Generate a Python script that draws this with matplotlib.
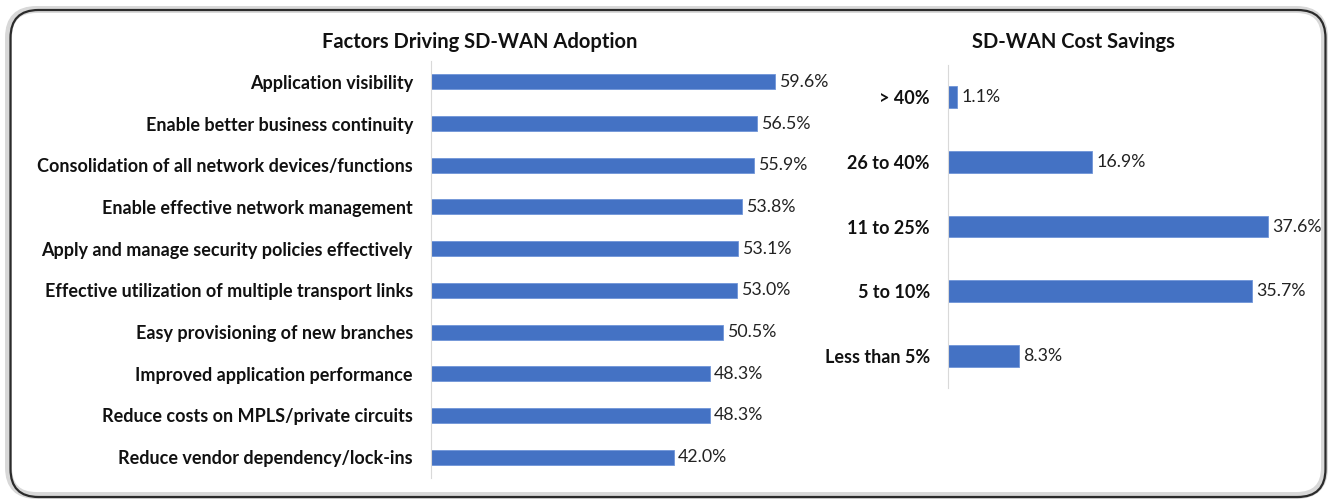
import matplotlib.pyplot as plt
from matplotlib.patches import FancyBboxPatch

factors = ["Application visibility",
           "Enable better business continuity",
           "Consolidation of all network devices/functions",
           "Enable effective network management",
           "Apply and manage security policies effectively",
           "Effective utilization of multiple transport links",
           "Easy provisioning of new branches",
           "Improved application performance",
           "Reduce costs on MPLS/private circuits",
           "Reduce vendor dependency/lock-ins"]
factor_pct = [59.6, 56.5, 55.9, 53.8, 53.1, 53.0, 50.5, 48.3, 48.3, 42.0]

savings = ["> 40%", "26 to 40%", "11 to 25%", "5 to 10%", "Less than 5%"]
savings_pct = [1.1, 16.9, 37.6, 35.7, 8.3]

plt.rcParams['font.family'] = ['Lato', 'DejaVu Sans']
BLUE = "#4472C4"
W, H = 1332, 499

fig = plt.figure(figsize=(W / 100, H / 100), dpi=100)

# rounded frame with a soft shadow
shadow = FancyBboxPatch((0.085, 0.035), 13.16, 4.86,
                        boxstyle="round,pad=0,rounding_size=0.28",
                        transform=fig.dpi_scale_trans, fill=False,
                        edgecolor="#d8d8d8", linewidth=5, zorder=0)
frame = FancyBboxPatch((0.105, 0.02), 13.15, 4.87,
                       boxstyle="round,pad=0,rounding_size=0.28",
                       transform=fig.dpi_scale_trans, fill=False,
                       edgecolor="#2b2b2b", linewidth=1.6, zorder=1)
fig.patches.extend([shadow, frame])


def hbar(ax, labels, values, px_per_unit, width_px, bar_h):
    pos = list(range(len(labels)))
    bars = ax.barh(pos, values, height=bar_h, color=BLUE, edgecolor="#6f95d8",
                   linewidth=0.6)
    ax.set_ylim(len(labels) - 0.5, -0.5)
    ax.set_xlim(0, width_px / px_per_unit)
    ax.set_yticks(pos)
    ax.set_yticklabels(labels, fontsize=13, fontweight="bold", color="#111111")
    ax.tick_params(axis="y", length=0, pad=13)
    ax.set_xticks([])
    for s in ["top", "right", "bottom"]:
        ax.spines[s].set_visible(False)
    ax.spines["left"].set_color("#d9d9d9")
    ax.spines["left"].set_linewidth(0.8)
    ax.bar_label(bars, labels=[f"{v:.1f}%" for v in values], padding=3,
                 fontsize=12.8, color="#222222")
    ax.patch.set_alpha(0)


# left chart
l_x0, l_x1, l_top, l_bot = 431, 840, 61, 478
ax1 = fig.add_axes([l_x0 / W, 1 - l_bot / H, (l_x1 - l_x0) / W, (l_bot - l_top) / H])
hbar(ax1, factors, factor_pct, 5.775, l_x1 - l_x0, 0.36)
fig.text(480 / W, 1 - 42 / H, "Factors Driving SD-WAN Adoption", ha="center",
         va="center", fontsize=14.5, fontweight="bold", color="#111111")

# right chart
r_x0, r_x1, r_top, r_bot = 948, 1312, 65, 388
ax2 = fig.add_axes([r_x0 / W, 1 - r_bot / H, (r_x1 - r_x0) / W, (r_bot - r_top) / H])
hbar(ax2, savings, savings_pct, 8.52, r_x1 - r_x0, 0.34)
fig.text(1073 / W, 1 - 42 / H, "SD-WAN Cost Savings", ha="center",
         va="center", fontsize=14.5, fontweight="bold", color="#111111")

fig.savefig("out.png", dpi=100, facecolor="white")
